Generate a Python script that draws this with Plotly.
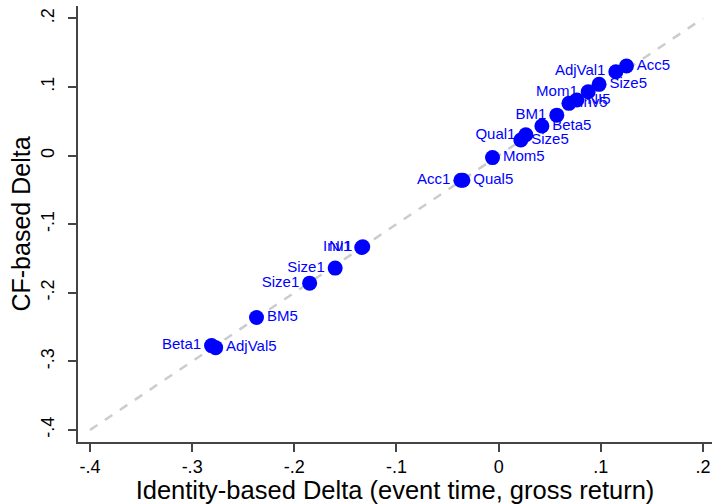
import plotly.graph_objects as go

# Data
labels = ["Inv1", "NI1", "Size1", "Size1", "BM5", "Beta1", "AdjVal5",
          "Acc1", "Qual5", "Mom5", "Size5", "Qual1", "Beta5", "BM1",
          "Inv5", "NI5", "Mom1", "Size5", "AdjVal1", "Acc5"]
identity_delta = [-0.134, -0.133, -0.160, -0.185, -0.237, -0.281, -0.277,
                  -0.037, -0.035, -0.006, 0.0217, 0.0266, 0.0423, 0.0569,
                  0.0688, 0.0765, 0.0876, 0.0983, 0.1147, 0.1251]
cf_delta = [-0.134, -0.133, -0.164, -0.186, -0.236, -0.277, -0.280,
            -0.036, -0.036, -0.003, 0.0226, 0.0303, 0.043, 0.0589,
            0.0761, 0.0810, 0.093, 0.1038, 0.1222, 0.1305]
label_side = ["left", "left", "left", "left", "right", "left", "right",
              "left", "right", "right", "right", "left", "right", "left",
              "right", "right", "left", "right", "left", "right"]

diag_line = [-0.4, 0.2]
tick_vals = [-0.4, -0.3, -0.2, -0.1, 0.0, 0.1, 0.2]
tick_text = ["-.4", "-.3", "-.2", "-.1", "0", ".1", ".2"]

FONT = "Liberation Sans, Arial, Helvetica, sans-serif"

fig = go.Figure()
fig.add_trace(go.Scatter(
    x=diag_line, y=diag_line, mode="lines",
    line=dict(color="#cccccc", width=2.5, dash="dash"),
    hoverinfo="skip", showlegend=False))
fig.add_trace(go.Scatter(
    x=identity_delta, y=cf_delta, mode="markers+text",
    text=labels,
    textposition=["middle " + s for s in label_side],
    textfont=dict(family=FONT, size=15, color="#0000ff"),
    marker=dict(size=15, color="#0000ff", line=dict(width=0)),
    showlegend=False))

fig.update_layout(
    width=712, height=504,
    margin=dict(l=78, r=0, t=6, b=62),
    paper_bgcolor="white", plot_bgcolor="white",
    font=dict(family=FONT, color="#000000"),
    xaxis=dict(
        range=[-0.4117, 0.2088], tickvals=tick_vals, ticktext=tick_text,
        showgrid=False, zeroline=False,
        showline=True, linecolor="#444444", linewidth=1.5,
        ticks="outside", ticklen=8, tickwidth=1.5, tickcolor="#444444",
        tickfont=dict(size=18, family=FONT),
        title=dict(text="Identity-based Delta (event time, gross return)",
                   font=dict(size=25.5, family=FONT), standoff=4),
        automargin=False),
    yaxis=dict(
        range=[-0.4175, 0.218], tickvals=tick_vals, ticktext=tick_text,
        showgrid=False, zeroline=False,
        showline=True, linecolor="#444444", linewidth=1.5,
        ticks="outside", ticklen=8, tickwidth=1.5, tickcolor="#444444",
        tickangle=-90, ticklabelstandoff=7,
        tickfont=dict(size=18, family=FONT),
        title=dict(text="CF-based Delta",
                   font=dict(size=25, family=FONT), standoff=0),
        automargin=False),
)

fig.write_html("out.html",
               config={"displayModeBar": False},
               post_script="document.body.style.margin='0';"
                           "document.body.style.overflow='hidden';")
